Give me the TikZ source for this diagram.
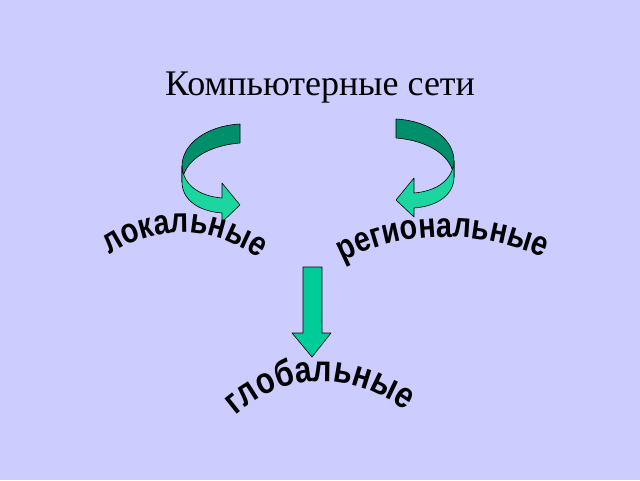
\documentclass[tikz,border=0pt]{standalone}
\usepackage{fontspec}
\newfontfamily\serifru{Liberation Serif}
\newfontfamily\wart{Liberation Sans}[FakeStretch=0.82]
\usetikzlibrary{decorations.text}
\definecolor{bg}{HTML}{CCCCFF}
\definecolor{dkg}{HTML}{008F6B}
\definecolor{ltg}{HTML}{1CD6A0}
\definecolor{mdg}{HTML}{00CC99}
\tikzset{
  back/.style={fill=dkg,draw=black,line width=0.6pt,line join=round},
  front/.style={fill=ltg,draw=black,line width=0.6pt,line join=round},
  arctext/.style={decorate,decoration={text along path,text align=center,
     text format delimiters={|}{|}}}
}
\begin{document}
\begin{tikzpicture}[x=1pt,y=-1pt]
\useasboundingbox[fill=bg] (0,0) rectangle (640,480);
\node (title) at (320,88) {\serifru\fontsize{36}{40}\selectfont Компьютерные сети};
% left curved arrow
\begin{scope}
\draw[back] (240,124) .. controls (205,126) and (182,145) .. (182,166) -- (182,182)
  .. controls (184,162) and (205,146) .. (240,143) -- cycle;
\draw[front] (182,166) .. controls (183,184) and (198,196) .. (222,198) -- (222,183)
  -- (240,205) -- (222,222) -- (222,213) .. controls (196,211) and (182,198) .. (182,182) -- cycle;
\end{scope}
% right curved arrow (mirror)
\begin{scope}[shift={(636,-5)},xscale=-1]
\draw[back] (240,124) .. controls (205,126) and (182,145) .. (182,166) -- (182,182)
  .. controls (184,162) and (205,146) .. (240,143) -- cycle;
\draw[front] (182,166) .. controls (183,184) and (198,196) .. (222,198) -- (222,183)
  -- (240,205) -- (222,222) -- (222,213) .. controls (196,211) and (182,198) .. (182,182) -- cycle;
\end{scope}
% down arrow
\draw[fill=mdg,draw=black,line width=0.6pt,line join=round]
  (303,267) -- (322,267) -- (322,333) -- (331,333) -- (312,357) -- (292,333) -- (303,333) -- cycle;
% curved labels
\path[arctext,decoration={text={|\wart\bfseries\fontsize{35}{38}\selectfont|локальные}}]
  (100,262) .. controls (150,222) and (218,222) .. (268,266);
\path[arctext,decoration={text={|\wart\bfseries\fontsize{35}{38}\selectfont|региональные}}]
  (334,266) .. controls (400,228) and (484,228) .. (552,262);
\path[arctext,decoration={text={|\wart\bfseries\fontsize{37}{40}\selectfont|глобальные}}]
  (222,428) .. controls (278,368) and (354,366) .. (420,422);
\end{tikzpicture}
\end{document}
